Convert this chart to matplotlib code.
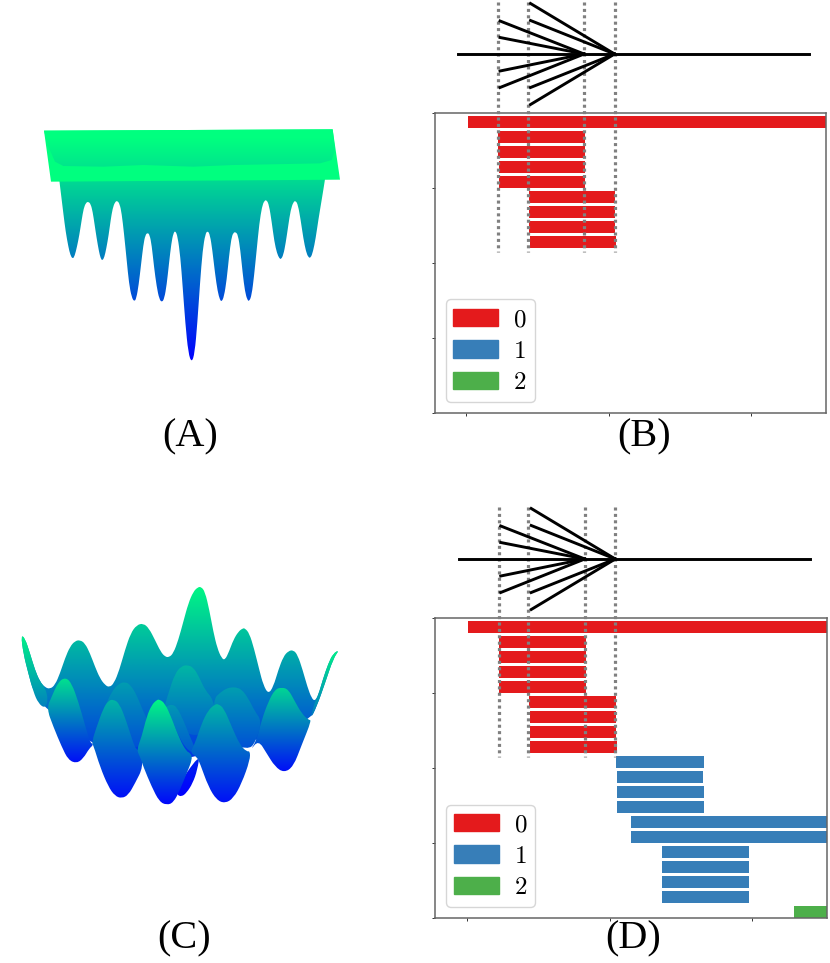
#!/usr/bin/env python3
# -*- coding: utf-8 -*-
import matplotlib
matplotlib.use('Agg')
import matplotlib.pyplot as plt
import numpy as np
from matplotlib.patches import Patch, PathPatch
from matplotlib.path import Path

plt.rcParams['mathtext.fontset'] = 'cm'

W, H = 830, 963

# bars, x in tree units, one row per node
bar_left = [0.004, 0.111, 0.111, 0.113, 0.113, 0.218, 0.220, 0.220, 0.222,
            0.523, 0.525, 0.526, 0.526, 0.575, 0.575, 0.683, 0.683, 0.685, 0.685, 1.147]
bar_right = [1.3, 0.416, 0.416, 0.416, 0.416, 0.523, 0.523, 0.523, 0.525,
             0.830, 0.829, 0.830, 0.830, 1.3, 1.3, 0.989, 0.989, 0.989, 0.989, 1.3]
bar_class = [0, 0, 0, 0, 0, 0, 0, 0, 0, 1, 1, 1, 1, 1, 1, 1, 1, 1, 1, 2]
class_colors = ['#e41a1c', '#377eb8', '#4daf4a']
class_names = ['0', '1', '2']
rows_b = 9
rows_d = 20

# tree above the bars
split_x = [0.112, 0.215, 0.413, 0.520]
fan1_x, fan1_y = 0.118, [21, 37.5, 71, 87.5]
fan2_x, fan2_y = 0.225, [3.5, 20.5, 87.5, 104.5]
stem_x = [-0.028, 1.204]
stem_y = 54

# panel A outlines
plane_x = [72, 938, 960, 93]
plane_y = [62, 58, 209, 215]
shade_x = [72, 938, 945, 935, 900, 800, 640, 520, 370, 250, 130, 105, 85]
shade_y = [62, 58, 120, 150, 160, 162, 165, 170, 165, 170, 168, 155, 110]
spikes_x = [116, 118, 124, 130, 137, 145, 151, 158, 164, 171, 178, 185, 191, 198, 205, 212, 218, 224, 230, 237,
            242, 247, 253, 259, 266, 272, 278, 285, 292, 299, 305, 312, 320, 327, 335, 343, 349, 356, 363, 370,
            376, 383, 389, 395, 402, 410, 418, 426, 433, 440, 447, 454, 460, 466, 473, 481, 488, 496, 505, 515,
            524, 532, 540, 548, 556, 563, 570, 577, 585, 593, 600, 605, 612, 620, 627, 634, 640, 647, 654, 661,
            668, 675, 682, 688, 695, 702, 710, 718, 726, 733, 740, 747, 755, 763, 771, 778, 783, 790, 797, 805,
            812, 820, 827, 834, 842, 850, 858, 865, 872, 879, 887, 895, 905, 915, 917]
spikes_y = [190, 212, 260, 310, 365, 410, 435, 447, 438, 410, 375, 330, 295, 278, 275, 282, 305, 345, 385, 425,
            445, 452, 442, 415, 375, 330, 295, 276, 272, 282, 310, 370, 450, 520, 562, 575, 565, 525, 465, 405,
            375, 368, 375, 405, 470, 530, 568, 577, 565, 525, 460, 400, 370, 362, 380, 440, 530, 640, 730, 758,
            730, 640, 520, 420, 372, 362, 375, 420, 490, 545, 570, 575, 560, 510, 440, 385, 368, 366, 375, 420,
            490, 545, 570, 574, 555, 500, 420, 340, 290, 272, 270, 285, 335, 395, 430, 445, 448, 435, 400, 345,
            300, 276, 272, 285, 330, 385, 425, 442, 444, 425, 385, 330, 270, 209, 190]

# panel C outlines: back sheet, then the ridges in front of it
back_x = [63, 75, 90, 105, 120, 135, 150, 165, 180, 195, 210, 225, 240, 255, 270, 285, 300, 315, 328, 342,
          358, 375, 392, 410, 430, 447, 465, 482, 495, 507, 520, 535, 550, 565, 580, 593, 603, 615, 628, 640,
          652, 665, 675, 687, 700, 715, 728, 735, 748, 762, 778, 790, 805, 820, 835, 850, 865, 880, 893, 908,
          922, 935, 945, 955, 968, 985, 1000, 1018, 1000, 975, 950, 930, 770, 590, 430, 280, 135, 100, 85, 70]
back_y = [195, 205, 250, 300, 335, 352, 357, 345, 310, 265, 230, 213, 210, 220, 250, 290, 325, 345, 352, 340,
          300, 240, 190, 165, 160, 175, 210, 245, 260, 262, 250, 210, 155, 100, 65, 52, 50, 65, 120, 185,
          235, 265, 270, 245, 210, 185, 175, 175, 190, 235, 300, 345, 372, 350, 300, 260, 243, 240, 255, 300,
          350, 385, 393, 375, 330, 280, 250, 240, 265, 340, 410, 450, 510, 560, 590, 525, 415, 365, 310, 250]
horn_l_x = [63, 75, 90, 105, 120, 135, 145, 135, 115, 100, 85, 70]
horn_l_y = [195, 205, 250, 300, 335, 352, 390, 415, 400, 365, 310, 250]
horn_r_x = [1018, 1000, 985, 968, 955, 945, 930, 950, 975, 1000]
horn_r_y = [240, 250, 280, 330, 375, 393, 450, 410, 340, 265]
blob_x = [525, 600, 592, 578, 560, 545, 532]
blob_y = [660, 550, 600, 640, 668, 680, 675]
mid1_x = [285, 298, 315, 335, 355, 375, 392, 410, 428, 445, 460, 410, 275]
mid1_y = [482, 455, 410, 365, 342, 335, 345, 375, 420, 455, 500, 540, 520]
mid2_x = [490, 505, 525, 545, 562, 580, 597, 615, 640, 650, 590, 500]
mid2_y = [420, 370, 310, 288, 285, 292, 320, 360, 388, 450, 510, 450]
mid3_x = [640, 660, 680, 695, 707, 725, 745, 765, 785, 770, 745, 640]
mid3_y = [388, 368, 355, 352, 352, 358, 385, 425, 452, 510, 543, 500]
hump_x = [490, 500, 515, 530, 550, 570, 590, 570, 540, 515]
hump_y = [420, 408, 403, 410, 450, 500, 545, 548, 510, 445]
lobe1_x = [140, 155, 175, 197, 215, 235, 255, 270, 275, 280, 268, 250, 230, 205, 185, 160]
lobe1_y = [415, 380, 335, 322, 340, 395, 465, 515, 520, 525, 535, 565, 580, 570, 530, 470]
lobe2_x = [275, 290, 310, 325, 340, 358, 378, 400, 410, 420, 430, 405, 385, 365, 345, 325, 300, 280]
lobe2_y = [520, 470, 415, 392, 388, 400, 450, 520, 540, 540, 590, 640, 675, 685, 678, 650, 590, 525]
lobe3_x = [410, 425, 440, 455, 470, 478, 495, 515, 540, 560, 570, 578, 560, 540, 520, 500, 478, 455, 430, 420]
lobe3_y = [540, 500, 440, 405, 390, 388, 400, 445, 510, 545, 548, 565, 610, 660, 698, 705, 695, 650, 590, 560]
lobe4_x = [570, 585, 605, 625, 645, 655, 672, 695, 720, 740, 750, 750, 725, 700, 675, 650, 625, 600, 590]
lobe4_y = [548, 520, 460, 420, 403, 402, 415, 470, 525, 545, 543, 570, 640, 685, 700, 690, 650, 580, 560]
lobe5_x = [750, 770, 785, 805, 825, 845, 865, 885, 905, 925, 935, 905, 880, 852, 825, 800, 775]
lobe5_y = [543, 510, 450, 395, 358, 352, 358, 395, 430, 450, 450, 525, 590, 608, 590, 550, 510]


def px_axes(x, y, w, h):
    return plt.axes([x / W, 1 - (y + h) / H, w / W, h / H])


def outline_path(xs, ys, smooth):
    pts = np.c_[xs, ys]
    if not smooth:
        return Path(np.r_[pts, pts[:1]], closed=True)
    # outline points act as quadratic control points, so the edge is drawn round
    mids = (pts + np.roll(pts, -1, axis=0)) / 2
    verts = [mids[-1]]
    codes = [Path.MOVETO]
    for p, m in zip(pts, mids):
        verts += [p, m]
        codes += [Path.CURVE3, Path.CURVE3]
    return Path(verts, codes)


def fill_shape(ax, xs, ys, y0, v0, y1, v1, smooth=True):
    # outline painted with a vertical run of the winter colormap
    top, bot = min(ys) - 5, max(ys) + 5
    grid = np.linspace(top, bot, 400)
    ramp = np.clip(v0 + (v1 - v0) * (grid - y0) / (y1 - y0), 0, 1)[:, None]
    im = ax.imshow(ramp, cmap='winter', vmin=0, vmax=1, aspect='auto',
                   extent=[min(xs) - 5, max(xs) + 5, bot, top], interpolation='bilinear')
    patch = PathPatch(outline_path(xs, ys, smooth), fc='none', ec='none', transform=ax.transData)
    ax.add_patch(patch)
    im.set_clip_path(patch)


def draw_bars(x, y, n_rows):
    ax = px_axes(x, y, 391.5, 300)
    for i in range(n_rows):
        ax.barh(2 * i + 1.2, bar_right[i] - bar_left[i], height=1.6, left=bar_left[i],
                color=class_colors[bar_class[i]])
    ax.set_xlim(-0.112, 1.262)
    ax.set_ylim(40, 0)
    ax.set_xticks([0, 0.5, 1])
    ax.set_yticks([0, 10, 20, 30, 40])
    ax.set_xticklabels([])
    ax.set_yticklabels([])
    ax.tick_params(length=2.2, width=0.7, color='#333333')
    for s in ax.spines.values():
        s.set_linewidth(1.1)
        s.set_color('#666666')
    handles = [Patch(color=c, label='$%s$' % n) for c, n in zip(class_colors, class_names)]
    ax.legend(handles=handles, loc='lower left', bbox_to_anchor=(11 / 391.5, 11 / 300),
              borderaxespad=0, fontsize=18, handlelength=1.8, handleheight=0.68,
              labelspacing=0.3, handletextpad=0.6, borderpad=0.31)

    # tree and split lines go on a clear axes over the bars, y counted from the panel top
    top = y - 113
    over = px_axes(x, top, 391.5, 113 + 300)
    over.patch.set_alpha(0)
    over.axis('off')
    over.set_xlim(-0.112, 1.262)
    over.set_ylim(413, 0)
    for sx in split_x:
        over.plot([sx, sx], [2, 252], color='gray', lw=2.3, ls=(0, (0.95, 1.05)), dash_capstyle='butt')
    over.plot(stem_x, [stem_y, stem_y], color='black', lw=2.1)
    for fy in fan1_y:
        over.plot([fan1_x, split_x[2]], [fy, stem_y], color='black', lw=2.1)
    for fy in fan2_y:
        over.plot([fan2_x, split_x[3]], [fy, stem_y], color='black', lw=2.1)


fig = plt.figure(figsize=(W / 100, H / 100), dpi=100)

# panel A
ax_a = px_axes(20, 110, 340, 270)
fill_shape(ax_a, spikes_x, spikes_y, 215, 0.85, 758, 0.0)
fill_shape(ax_a, plane_x, plane_y, 62, 1.0, 215, 1.0, smooth=False)
fill_shape(ax_a, shade_x, shade_y, 85, 1.0, 170, 0.9, smooth=False)
ax_a.set_xlim(0, 1020)
ax_a.set_ylim(810, 0)
ax_a.axis('off')

# panel C
ax_c = px_axes(0, 570, 360, 250)
fill_shape(ax_c, back_x, back_y, 50, 0.97, 500, 0.3)
fill_shape(ax_c, blob_x, blob_y, 550, 0.15, 680, 0.0)
fill_shape(ax_c, horn_l_x, horn_l_y, 195, 0.95, 415, 0.5)
fill_shape(ax_c, horn_r_x, horn_r_y, 240, 0.95, 450, 0.45)
fill_shape(ax_c, mid1_x, mid1_y, 335, 0.62, 540, 0.3)
fill_shape(ax_c, mid2_x, mid2_y, 285, 0.72, 510, 0.35)
fill_shape(ax_c, mid3_x, mid3_y, 352, 0.62, 543, 0.3)
fill_shape(ax_c, hump_x, hump_y, 403, 0.6, 548, 0.35)
fill_shape(ax_c, lobe1_x, lobe1_y, 322, 0.9, 580, 0.05)
fill_shape(ax_c, lobe2_x, lobe2_y, 388, 0.72, 685, 0.06)
fill_shape(ax_c, lobe4_x, lobe4_y, 402, 0.72, 700, 0.06)
fill_shape(ax_c, lobe5_x, lobe5_y, 352, 0.85, 608, 0.05)
fill_shape(ax_c, lobe3_x, lobe3_y, 388, 0.97, 705, 0.02)
ax_c.set_xlim(0, 1080)
ax_c.set_ylim(750, 0)
ax_c.axis('off')

draw_bars(434.5, 113, rows_b)
draw_bars(435.2, 618, rows_d)

for txt, px, py in [('(A)', 190, 437), ('(B)', 644, 437), ('(C)', 184, 939), ('(D)', 633, 939)]:
    fig.text(px / W, 1 - py / H, txt, family='Liberation Serif', fontsize=29, ha='center', va='center')

fig.savefig('out.png', dpi=100)
